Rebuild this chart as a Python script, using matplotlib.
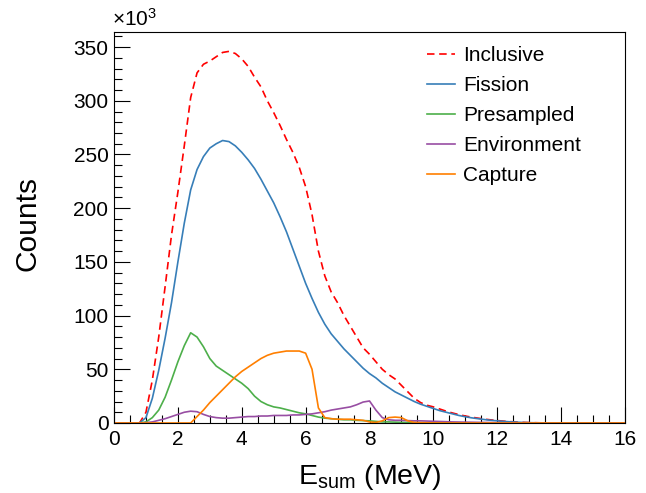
import numpy as np
import matplotlib
matplotlib.use('Agg')
import matplotlib.pyplot as plt
from matplotlib.ticker import MultipleLocator

plt.rcParams['font.family'] = ['Liberation Sans', 'DejaVu Sans']
plt.rcParams['mathtext.fontset'] = 'custom'
plt.rcParams['mathtext.rm'] = 'Liberation Sans'
plt.rcParams['mathtext.it'] = 'Liberation Sans:italic'

# energy grid (MeV), counts in units of 10^3
esum = np.linspace(0, 16, 81)

inclusive = [0, 0, 0, 0, 0, 10, 40, 80, 127, 175,
             215, 258, 303, 326, 334, 337, 341, 345, 346, 344,
             339, 332, 322, 313, 300, 289, 277, 264, 252, 238,
             220, 194, 160, 137, 122, 112, 100, 90, 80, 70,
             64, 57, 50, 45, 41, 35, 29, 23, 19, 16.5,
             15, 13, 11, 9.3, 7.8, 6.5, 5.4, 4.5, 3.6, 2.9,
             2.3, 1.7, 1.3, 0.9, 0.6, 0.4, 0.25, 0.15, 0.1, 0.05,
             0, 0, 0, 0, 0, 0, 0, 0, 0, 0,
             0]

fission = [0, 0, 0, 0, 0, 5, 23, 49, 79, 112,
           150, 186, 217, 236, 248, 256, 260, 263, 262, 258,
           252, 245, 237, 227, 216, 205, 192, 178, 162, 146,
           130, 116, 103, 92, 83, 76, 69, 63, 57, 51,
           46, 42, 37, 33, 29, 26, 23, 20, 17.5, 15.5,
           13.5, 11.5, 10, 8.5, 7, 5.8, 4.8, 4, 3.2, 2.5,
           2, 1.5, 1.1, 0.8, 0.5, 0.3, 0.2, 0.1, 0.05, 0,
           0, 0, 0, 0, 0, 0, 0, 0, 0, 0,
           0]

presampled = [0, 0, 0, 0, 0, 1, 5, 12, 24, 40,
              57, 72, 84, 80, 71, 60, 53, 49, 45, 41,
              37, 32, 25, 20, 17, 15, 14, 12.5, 11, 9.5,
              8.5, 7, 5.5, 4.5, 4, 3.5, 3, 3, 2.5, 2.2,
              2, 1.5, 1, 1, 0.8, 0.6, 0.5, 0.4, 0.3, 0.25,
              0.2, 0.15, 0.1, 0.1, 0.05, 0, 0, 0, 0, 0,
              0, 0, 0, 0, 0, 0, 0, 0, 0, 0,
              0, 0, 0, 0, 0, 0, 0, 0, 0, 0,
              0]

environment = [0, 0, 0, 0, 0, 0.3, 1, 2.5, 4, 6,
               8, 10, 11, 10.5, 8, 6, 5, 4.5, 4.5, 5,
               5.5, 6, 6, 6.5, 6.5, 7, 7, 7, 7.5, 7.5,
               8, 8.5, 9.5, 10.5, 12, 13, 14, 15, 17, 19.5,
               20.5, 12, 5, 3, 2.5, 2.5, 2.2, 2, 2, 1.8,
               1.6, 1.4, 1.2, 1, 0.9, 0.8, 0.7, 0.6, 0.5, 0.4,
               0.3, 0.2, 0.2, 0.1, 0.1, 0.05, 0, 0, 0, 0,
               0, 0, 0, 0, 0, 0, 0, 0, 0, 0,
               0]

capture = [0, 0, 0, 0, 0, 0, 0, 0, 0, 0,
           0, 0, 0, 6, 12, 19, 25, 31, 37, 43,
           48, 52, 56, 60, 63, 65, 66, 67, 67, 67,
           65, 50, 14, 5, 4, 3.5, 3.5, 3.5, 3, 2.5,
           1, 0.5, 2, 5, 5.5, 5, 2, 0.5, 0.3, 0.2,
           0.1, 0.1, 0.05, 0, 0, 0, 0, 0, 0, 0,
           0, 0, 0, 0, 0, 0, 0, 0, 0, 0,
           0, 0, 0, 0, 0, 0, 0, 0, 0, 0,
           0]

fig = plt.figure(figsize=(6.46, 4.93), dpi=100)
ax = fig.add_axes([0.1765, 0.142, 0.791, 0.793])

lw = 1.2
ax.plot(esum, inclusive, color='#ff0000', lw=lw, ls=(0, (4.5, 2.8)), label='Inclusive')
ax.plot(esum, fission, color='#377eb8', lw=lw, label='Fission')
ax.plot(esum, presampled, color='#4daf4a', lw=lw, label='Presampled')
ax.plot(esum, environment, color='#984ea3', lw=lw, label='Environment')
ax.plot(esum, capture, color='#ff7f00', lw=lw, label='Capture')

ax.set_xlim(0, 16)
ax.set_ylim(0, 364)
ax.xaxis.set_major_locator(MultipleLocator(2))
ax.xaxis.set_minor_locator(MultipleLocator(0.5))
ax.yaxis.set_major_locator(MultipleLocator(50))
ax.yaxis.set_minor_locator(MultipleLocator(10))
ax.tick_params(which='both', direction='in', top=False, right=False, width=0.8)
ax.tick_params(which='major', length=11.5, labelsize=15)
ax.tick_params(axis='y', which='major', pad=4)
ax.tick_params(axis='x', which='major', pad=5)
ax.tick_params(which='minor', length=5.8)
for sp in ax.spines.values():
    sp.set_linewidth(0.8)

ax.set_xlabel(r'E$_{\mathrm{sum}}$ (MeV)', fontsize=20.5)
ax.set_ylabel('Counts', fontsize=21.5)
ax.xaxis.set_label_coords(0.5, -0.1)
ax.yaxis.set_label_coords(-0.141, 0.511)

fig.text(0.173, 0.962, r'×10$^{3}$', fontsize=15, va='center', ha='left')

ax.legend(loc='upper left', bbox_to_anchor=(0.596, 0.986), frameon=False,
          fontsize=15, handlelength=1.35, handletextpad=0.38, labelspacing=0.53,
          borderaxespad=0)

fig.savefig('out.png', dpi=100)
